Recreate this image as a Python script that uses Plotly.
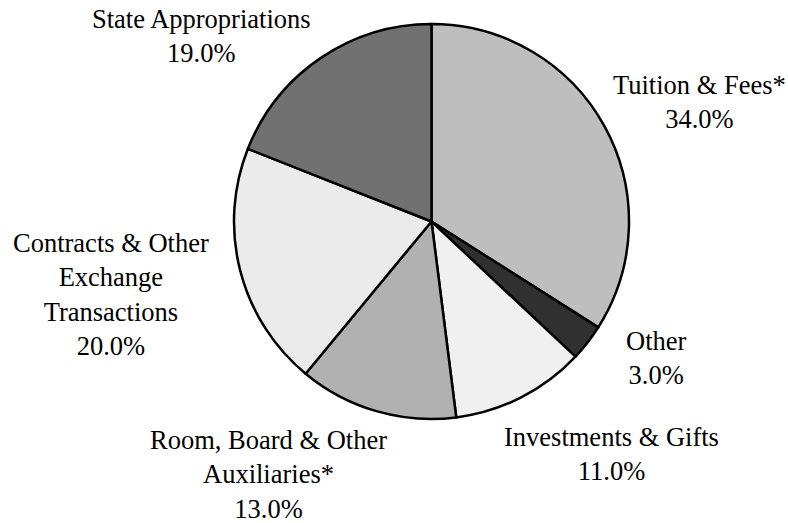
import plotly.graph_objects as go

labels = ["Tuition & Fees*", "Other", "Investments & Gifts",
          "Room, Board & Other<br>Auxiliaries*",
          "Contracts & Other<br>Exchange<br>Transactions",
          "State Appropriations"]
values = [34.0, 3.0, 11.0, 13.0, 20.0, 19.0]
colors = ["#bebebe", "#303030", "#f0f0f0", "#b1b1b1", "#ebebeb", "#717171"]

# label block centres (pixels from top-left of the 788x523 figure) - layout only
label_pos_px = [(699, 102), (656, 358), (611, 454), (268, 474), (111, 294), (201, 36)]

W, H = 788, 523
fig = go.Figure(go.Pie(
    labels=labels, values=values, sort=False, direction="clockwise", rotation=0,
    marker=dict(colors=colors, line=dict(color="black", width=2.5)),
    textinfo="none", showlegend=False, hoverinfo="skip",
    domain=dict(x=[75 / W, 1], y=[104 / H, 499 / H]),
))

total = sum(values)
for lab, val, (px, py) in zip(labels, values, label_pos_px):
    fig.add_annotation(
        x=px / W, y=1 - py / H, xref="paper", yref="paper",
        text=f"{lab}<br>{val / total * 100:.1f}%", showarrow=False,
        xanchor="center", yanchor="middle", align="center",
        font=dict(family="Liberation Serif", size=26.5, color="black"),
    )

fig.update_layout(width=W, height=H, margin=dict(l=0, r=0, t=0, b=0),
                  paper_bgcolor="white", plot_bgcolor="white")
fig.write_html("out.html", config={"displayModeBar": False},
               post_script="document.body.style.margin='0';document.body.style.overflow='hidden';")
